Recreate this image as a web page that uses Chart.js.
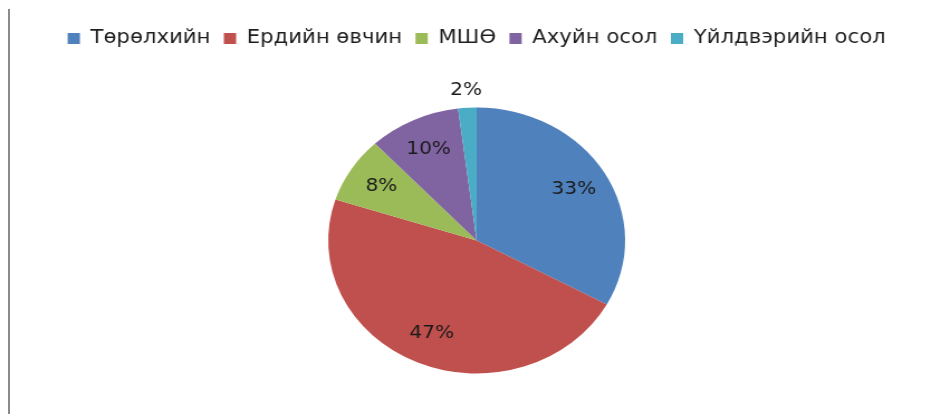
<!DOCTYPE html>
<html>
<head>
<meta charset="utf-8">
<script src="https://cdn.jsdelivr.net/npm/chart.js@4"></script>
<style>
  html, body { margin: 0; padding: 0; background: #fff; overflow: hidden; }
  #edge { position: absolute; left: 8px; top: 9px; width: 2px; height: 405px; background: #8a8a8a; }
  #wrap { position: absolute; left: 0; top: 0; width: 834px; height: 427px; transform: scaleX(1.1163); transform-origin: 0 0; }
</style>
</head>
<body>
<div id="edge"></div>
<div id="wrap"><canvas id="chart" width="834" height="427"></canvas></div>
<script>
const labels = ['Төрөлхийн', 'Ердийн өвчин', 'МШӨ', 'Ахуйн осол', 'Үйлдвэрийн осол'];
const shares = [33, 47, 8, 10, 2];
const colors = ['#4F81BD', '#C0504D', '#9BBB59', '#8064A2', '#4BACC6'];

// percent labels, inside the slice or just outside when it is small
const percentLabels = {
  id: 'percentLabels',
  afterDatasetsDraw(chart) {
    const ctx = chart.ctx;
    const meta = chart.getDatasetMeta(0);
    const total = shares.reduce((a, b) => a + b, 0);
    ctx.save();
    ctx.font = '18px "DejaVu Sans"';
    ctx.fillStyle = '#1a1a1a';
    ctx.textAlign = 'center';
    ctx.textBaseline = 'middle';
    meta.data.forEach((arc, i) => {
      const p = arc.getProps(['x', 'y', 'startAngle', 'endAngle', 'outerRadius'], true);
      const mid = (p.startAngle + p.endAngle) / 2;
      const pct = shares[i] / total * 100;
      const r = pct < 5 ? p.outerRadius + 17 : p.outerRadius * 0.76;
      ctx.fillText(Math.round(pct) + '%', p.x + Math.cos(mid) * r, p.y + Math.sin(mid) * r);
    });
    ctx.restore();
  }
};

new Chart(document.getElementById('chart'), {
  type: 'pie',
  data: {
    labels: labels,
    datasets: [{
      data: shares,
      backgroundColor: colors,
      borderWidth: 0,
      radius: 133
    }]
  },
  options: {
    responsive: false,
    animation: false,
    layout: { padding: { left: 20, top: 17, bottom: 4 } },
    plugins: {
      legend: {
        position: 'top',
        labels: {
          boxWidth: 11,
          boxHeight: 11,
          padding: 12,
          color: '#1e1e1e',
          font: { size: 19, family: '"DejaVu Sans"' }
        }
      },
      tooltip: { enabled: false }
    }
  },
  plugins: [percentLabels]
});
</script>
</body>
</html>
